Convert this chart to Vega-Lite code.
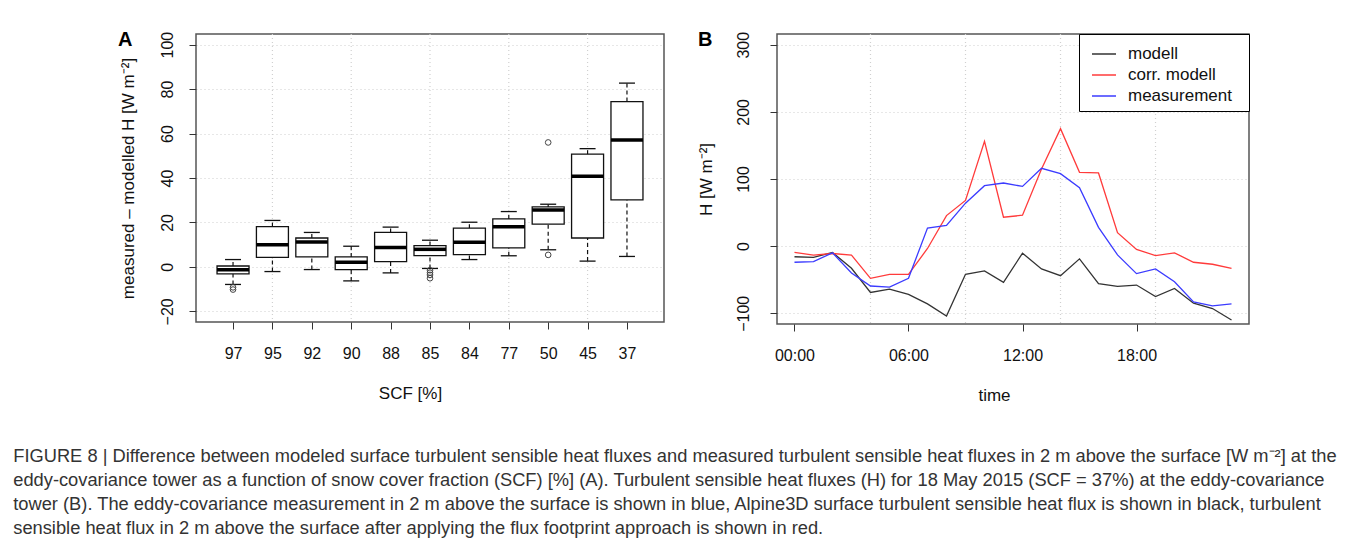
{
  "$schema": "https://vega.github.io/schema/vega-lite/v6.json",
  "background": "white",
  "padding": {"left": 13, "top": 29, "right": 5, "bottom": 0},
  "bounds": "flush",
  "spacing": 113,
  "resolve": {"scale": {"color": "independent"}, "legend": {"color": "independent"}},
  "title": {
    "text": [
      "FIGURE 8 | Difference between modeled surface turbulent sensible heat fluxes and measured turbulent sensible heat fluxes in 2 m above the surface [W m⁻²] at the",
      "eddy-covariance tower as a function of snow cover fraction (SCF) [%] (A). Turbulent sensible heat fluxes (H) for 18 May 2015 (SCF = 37%) at the eddy-covariance",
      "tower (B). The eddy-covariance measurement in 2 m above the surface is shown in blue, Alpine3D surface turbulent sensible heat flux is shown in black, turbulent",
      "sensible heat flux in 2 m above the surface after applying the flux footprint approach is shown in red."
    ],
    "orient": "bottom",
    "anchor": "start",
    "frame": "bounds",
    "font": "Liberation Sans",
    "fontSize": 18.3,
    "fontWeight": "normal",
    "color": "#333333",
    "lineHeight": 24,
    "offset": 44,
    "dx": -104
  },
  "config": {
    "view": {"stroke": "#555555", "strokeWidth": 1.5},
    "axis": {
      "domain": false,
      "tickColor": "#333333",
      "tickSize": 7,
      "labelFont": "Liberation Sans",
      "labelFontSize": 16,
      "labelColor": "#111111",
      "titleFont": "Liberation Sans",
      "titleFontSize": 17,
      "titleFontWeight": "normal",
      "titleColor": "#111111",
      "gridColor": "#d0d0d0",
      "gridDash": [1, 3],
      "gridWidth": 1.2
    },
    "legend": {
      "labelFont": "Liberation Sans",
      "labelFontSize": 17,
      "labelColor": "#111111"
    }
  },
  "hconcat": [
    {
      "width": 468,
      "height": 288,
      "title": {"text": "A", "anchor": "start", "frame": "group", "dx": -78, "offset": -19, "fontSize": 20, "fontWeight": "bold", "font": "Liberation Sans", "color": "#000000"},
      "data": {
        "values": [
          {"scf": "97", "lo": -7.9, "q1": -3.1, "med": -1.3, "q3": 0.4, "hi": 3.3},
          {"scf": "95", "lo": -2.1, "q1": 4.3, "med": 10.0, "q3": 18.1, "hi": 20.9},
          {"scf": "92", "lo": -1.2, "q1": 4.5, "med": 11.2, "q3": 13.0, "hi": 15.5},
          {"scf": "90", "lo": -6.3, "q1": -1.2, "med": 2.1, "q3": 4.5, "hi": 9.3},
          {"scf": "88", "lo": -2.7, "q1": 2.4, "med": 8.7, "q3": 15.5, "hi": 17.9},
          {"scf": "85", "lo": -0.7, "q1": 5.1, "med": 7.9, "q3": 9.6, "hi": 12.0},
          {"scf": "84", "lo": 3.3, "q1": 5.5, "med": 11.1, "q3": 17.4, "hi": 20.1},
          {"scf": "77", "lo": 5.0, "q1": 8.6, "med": 18.1, "q3": 21.6, "hi": 24.9},
          {"scf": "50", "lo": 7.7, "q1": 19.2, "med": 25.6, "q3": 27.0, "hi": 28.2},
          {"scf": "45", "lo": 2.6, "q1": 13.0, "med": 40.8, "q3": 50.7, "hi": 53.2},
          {"scf": "37", "lo": 4.7, "q1": 30.2, "med": 57.1, "q3": 74.4, "hi": 82.7}
        ]
      },
      "layer": [
        {
          "data": {"values": [{"scf": "95"}, {"scf": "90"}, {"scf": "85"}, {"scf": "77"}, {"scf": "45"}]},
          "mark": {"type": "rule", "strokeDash": [1, 3], "color": "#d0d0d0", "strokeWidth": 1.2},
          "encoding": {
            "x": {
              "field": "scf", "type": "ordinal",
              "scale": {"type": "point", "padding": 0.94, "domain": ["97", "95", "92", "90", "88", "85", "84", "77", "50", "45", "37"]},
              "axis": {"title": "SCF [%]", "labelAngle": 0, "labelPadding": 16, "titlePadding": 24, "titleX": 214, "grid": false}
            }
          }
        },
        {
          "mark": {"type": "rule", "strokeDash": [4, 3], "color": "#111111", "strokeWidth": 1.2},
          "encoding": {
            "x": {"field": "scf", "type": "ordinal"},
            "y": {
              "field": "lo", "type": "quantitative",
              "scale": {"domain": [-24.8, 104.8], "nice": false, "zero": false},
              "axis": {"title": "measured – modelled H [W m⁻²]", "values": [-20, 0, 20, 40, 60, 80, 100], "grid": true, "labelAngle": -90, "labelAlign": "center", "labelBaseline": "bottom", "labelPadding": 13.5, "titlePadding": 22.5}
            },
            "y2": {"field": "q1"}
          }
        },
        {
          "mark": {"type": "rule", "strokeDash": [4, 3], "color": "#111111", "strokeWidth": 1.2},
          "encoding": {
            "x": {"field": "scf", "type": "ordinal"},
            "y": {"field": "q3", "type": "quantitative"},
            "y2": {"field": "hi"}
          }
        },
        {
          "mark": {"type": "bar", "size": 32, "fill": "white", "stroke": "#111111", "strokeWidth": 1.3},
          "encoding": {
            "x": {"field": "scf", "type": "ordinal"},
            "y": {"field": "q1", "type": "quantitative"},
            "y2": {"field": "q3"}
          }
        },
        {
          "mark": {"type": "tick", "size": 32, "thickness": 3.5, "color": "#000000", "opacity": 1},
          "encoding": {
            "x": {"field": "scf", "type": "ordinal"},
            "y": {"field": "med", "type": "quantitative"}
          }
        },
        {
          "mark": {"type": "tick", "size": 16, "thickness": 1.3, "color": "#111111", "opacity": 1},
          "encoding": {
            "x": {"field": "scf", "type": "ordinal"},
            "y": {"field": "lo", "type": "quantitative"}
          }
        },
        {
          "mark": {"type": "tick", "size": 16, "thickness": 1.3, "color": "#111111", "opacity": 1},
          "encoding": {
            "x": {"field": "scf", "type": "ordinal"},
            "y": {"field": "hi", "type": "quantitative"}
          }
        },
        {
          "data": {
            "values": [
              {"scf": "97", "out": -9.2},
              {"scf": "97", "out": -10.2},
              {"scf": "85", "out": -1.5},
              {"scf": "85", "out": -2.6},
              {"scf": "85", "out": -3.6},
              {"scf": "85", "out": -5.1},
              {"scf": "50", "out": 56.0},
              {"scf": "50", "out": 5.4}
            ]
          },
          "mark": {"type": "point", "shape": "circle", "filled": false, "size": 32, "stroke": "#444444", "strokeWidth": 1, "opacity": 1},
          "encoding": {
            "x": {"field": "scf", "type": "ordinal"},
            "y": {"field": "out", "type": "quantitative"}
          }
        }
      ]
    },
    {
      "width": 472,
      "height": 290,
      "title": {"text": "B", "anchor": "start", "frame": "group", "dx": -79, "offset": -19, "fontSize": 20, "fontWeight": "bold", "font": "Liberation Sans", "color": "#000000"},
      "layer": [
        {
          "data": {"values": [{"h": 4}, {"h": 9}, {"h": 14}, {"h": 19}]},
          "mark": {"type": "rule", "strokeDash": [1, 3], "color": "#d0d0d0", "strokeWidth": 1.2},
          "encoding": {
            "x": {
              "field": "h", "type": "quantitative",
              "scale": {"domain": [-0.92, 23.92], "nice": false, "zero": false},
              "axis": {"title": "time", "values": [0, 6, 12, 18], "labelExpr": "(datum.value < 10 ? '0' : '') + datum.value + ':00'", "grid": false, "labelPadding": 16, "titlePadding": 24, "titleX": 217}
            }
          }
        },
        {
          "data": {
            "values": [
              {"h": 0, "series": "modell", "H": -15.8}, {"h": 1, "series": "modell", "H": -16.8}, {"h": 2, "series": "modell", "H": -9.4}, {"h": 3, "series": "modell", "H": -33},
              {"h": 4, "series": "modell", "H": -69}, {"h": 5, "series": "modell", "H": -64}, {"h": 6, "series": "modell", "H": -72}, {"h": 7, "series": "modell", "H": -86},
              {"h": 8, "series": "modell", "H": -104}, {"h": 9, "series": "modell", "H": -42}, {"h": 10, "series": "modell", "H": -37}, {"h": 11, "series": "modell", "H": -54},
              {"h": 12, "series": "modell", "H": -10.5}, {"h": 13, "series": "modell", "H": -34}, {"h": 14, "series": "modell", "H": -44}, {"h": 15, "series": "modell", "H": -19},
              {"h": 16, "series": "modell", "H": -56}, {"h": 17, "series": "modell", "H": -60}, {"h": 18, "series": "modell", "H": -58}, {"h": 19, "series": "modell", "H": -75},
              {"h": 20, "series": "modell", "H": -63}, {"h": 21, "series": "modell", "H": -85}, {"h": 22, "series": "modell", "H": -93}, {"h": 23, "series": "modell", "H": -110},
              {"h": 0, "series": "corr. modell", "H": -9.4}, {"h": 1, "series": "corr. modell", "H": -13.4}, {"h": 2, "series": "corr. modell", "H": -11}, {"h": 3, "series": "corr. modell", "H": -13.4},
              {"h": 4, "series": "corr. modell", "H": -48}, {"h": 5, "series": "corr. modell", "H": -42}, {"h": 6, "series": "corr. modell", "H": -42}, {"h": 7, "series": "corr. modell", "H": -3.5},
              {"h": 8, "series": "corr. modell", "H": 45.5}, {"h": 9, "series": "corr. modell", "H": 68}, {"h": 10, "series": "corr. modell", "H": 156}, {"h": 11, "series": "corr. modell", "H": 43},
              {"h": 12, "series": "corr. modell", "H": 46}, {"h": 13, "series": "corr. modell", "H": 115}, {"h": 14, "series": "corr. modell", "H": 175}, {"h": 15, "series": "corr. modell", "H": 110},
              {"h": 16, "series": "corr. modell", "H": 109}, {"h": 17, "series": "corr. modell", "H": 20}, {"h": 18, "series": "corr. modell", "H": -5}, {"h": 19, "series": "corr. modell", "H": -14},
              {"h": 20, "series": "corr. modell", "H": -10}, {"h": 21, "series": "corr. modell", "H": -24}, {"h": 22, "series": "corr. modell", "H": -27}, {"h": 23, "series": "corr. modell", "H": -33},
              {"h": 0, "series": "measurement", "H": -24}, {"h": 1, "series": "measurement", "H": -23}, {"h": 2, "series": "measurement", "H": -10}, {"h": 3, "series": "measurement", "H": -40},
              {"h": 4, "series": "measurement", "H": -59.4}, {"h": 5, "series": "measurement", "H": -61}, {"h": 6, "series": "measurement", "H": -48}, {"h": 7, "series": "measurement", "H": 27},
              {"h": 8, "series": "measurement", "H": 31}, {"h": 9, "series": "measurement", "H": 64}, {"h": 10, "series": "measurement", "H": 90}, {"h": 11, "series": "measurement", "H": 94},
              {"h": 12, "series": "measurement", "H": 89}, {"h": 13, "series": "measurement", "H": 116}, {"h": 14, "series": "measurement", "H": 108}, {"h": 15, "series": "measurement", "H": 87},
              {"h": 16, "series": "measurement", "H": 28}, {"h": 17, "series": "measurement", "H": -13}, {"h": 18, "series": "measurement", "H": -41}, {"h": 19, "series": "measurement", "H": -34},
              {"h": 20, "series": "measurement", "H": -53}, {"h": 21, "series": "measurement", "H": -83}, {"h": 22, "series": "measurement", "H": -89}, {"h": 23, "series": "measurement", "H": -86}
            ]
          },
          "mark": {"type": "line", "strokeWidth": 1.3},
          "encoding": {
            "x": {"field": "h", "type": "quantitative"},
            "y": {
              "field": "H", "type": "quantitative",
              "scale": {"domain": [-116, 316], "nice": false, "zero": false},
              "axis": {"title": "H [W m⁻²]", "values": [-100, 0, 100, 200, 300], "grid": true, "labelAngle": -90, "labelAlign": "center", "labelBaseline": "bottom", "labelPadding": 19, "titlePadding": 20}
            },
            "color": {
              "field": "series", "type": "nominal",
              "scale": {"domain": ["modell", "corr. modell", "measurement"], "range": ["#333333", "#ff3b3b", "#3b3bff"]},
              "legend": {
                "title": " ", "titleOrient": "right", "titlePadding": 10, "titleFontSize": 8,
                "orient": "top-right", "offset": 0,
                "strokeColor": "#000000", "fillColor": "white", "padding": 7,
                "symbolType": "stroke", "symbolSize": 576, "symbolStrokeWidth": 1.5, "symbolOffset": 5,
                "labelOffset": 11, "rowPadding": -4
              }
            }
          }
        }
      ],
      "resolve": {"legend": {"color": "independent"}}
    }
  ]
}
